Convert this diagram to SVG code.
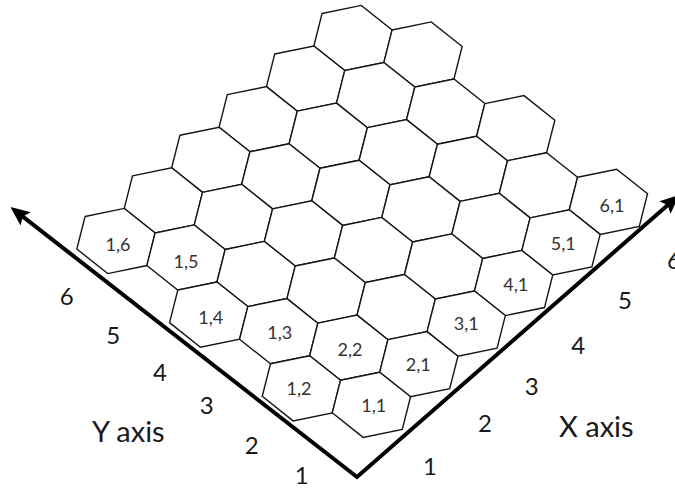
<svg xmlns="http://www.w3.org/2000/svg" width="675" height="488" viewBox="0 0 675 488">
<style>
.hex{fill:#fff;stroke:#151515;stroke-width:1.4;stroke-linejoin:miter}
.lbl{font-family:Lato,"Liberation Sans",sans-serif;font-size:18px;fill:#333;text-anchor:middle}
.num{font-family:Lato,"Liberation Sans",sans-serif;font-size:24px;fill:#1a1a1a;text-anchor:middle}
.ttl{font-family:Lato,"Liberation Sans",sans-serif;font-size:29px;fill:#1a1a1a;text-anchor:middle}
.axis{fill:none;stroke:#000;stroke-width:4;stroke-linejoin:miter}
</style>
<defs>
<polygon id="hex" class="hex" points="-30.89,-24.55 8.26,-32.58 39.15,-8.03 30.89,24.55 -8.26,32.58 -39.15,8.03"/>
<marker id="arr" markerUnits="userSpaceOnUse" markerWidth="30" markerHeight="30" refX="0" refY="0" viewBox="-10 -10 25 20" orient="auto-start-reverse" overflow="visible">
<path d="M11,0 L-5,-7 L-2,0 L-5,7 Z" fill="#000"/>
</marker>
</defs>
<rect width="675" height="488" fill="#fff"/>
<g id="hexes">
<g id="h6-6"><use href="#hex" x="353.0" y="38.0"/></g>
<g id="h5-6"><use href="#hex" x="305.6" y="78.6"/></g>
<g id="h6-5"><use href="#hex" x="423.0" y="54.5"/></g>
<g id="h4-6"><use href="#hex" x="258.2" y="119.2"/></g>
<g id="h5-5"><use href="#hex" x="375.6" y="95.1"/></g>
<g id="h6-4"><use href="#hex" x="445.7" y="111.6"/></g>
<g id="h3-6"><use href="#hex" x="210.8" y="159.8"/></g>
<g id="h4-5"><use href="#hex" x="328.2" y="135.7"/></g>
<g id="h5-4"><use href="#hex" x="398.3" y="152.2"/></g>
<g id="h6-3"><use href="#hex" x="515.7" y="128.2"/></g>
<g id="h2-6"><use href="#hex" x="163.4" y="200.4"/></g>
<g id="h3-5"><use href="#hex" x="280.8" y="176.3"/></g>
<g id="h4-4"><use href="#hex" x="350.9" y="192.8"/></g>
<g id="h5-3"><use href="#hex" x="468.3" y="168.8"/></g>
<g id="h6-2"><use href="#hex" x="538.4" y="185.3"/></g>
<g id="h1-6"><use href="#hex" x="116.0" y="241.0"/><text class="lbl" x="118" y="251.3">1,6</text></g>
<g id="h2-5"><use href="#hex" x="233.4" y="216.9"/></g>
<g id="h3-4"><use href="#hex" x="303.5" y="233.4"/></g>
<g id="h4-3"><use href="#hex" x="420.9" y="209.4"/></g>
<g id="h5-2"><use href="#hex" x="491.0" y="225.9"/></g>
<g id="h6-1"><use href="#hex" x="608.4" y="201.8"/><text class="lbl" x="612" y="212.3">6,1</text></g>
<g id="h1-5"><use href="#hex" x="186.0" y="257.5"/><text class="lbl" x="186" y="267.8">1,5</text></g>
<g id="h2-4"><use href="#hex" x="256.1" y="274.0"/></g>
<g id="h3-3"><use href="#hex" x="373.5" y="250.0"/></g>
<g id="h4-2"><use href="#hex" x="443.6" y="266.5"/></g>
<g id="h5-1"><use href="#hex" x="561.0" y="242.4"/><text class="lbl" x="563.3" y="250.1">5,1</text></g>
<g id="h1-4"><use href="#hex" x="208.7" y="314.6"/><text class="lbl" x="210.8" y="324.3">1,4</text></g>
<g id="h2-3"><use href="#hex" x="326.1" y="290.6"/></g>
<g id="h3-2"><use href="#hex" x="396.2" y="307.1"/></g>
<g id="h4-1"><use href="#hex" x="513.6" y="283.0"/><text class="lbl" x="515.8" y="291.3">4,1</text></g>
<g id="h1-3"><use href="#hex" x="278.7" y="331.2"/><text class="lbl" x="279.7" y="338.8">1,3</text></g>
<g id="h2-2"><use href="#hex" x="348.8" y="347.7"/><text class="lbl" x="350" y="355.8">2,2</text></g>
<g id="h3-1"><use href="#hex" x="466.2" y="323.6"/><text class="lbl" x="466.2" y="329.8">3,1</text></g>
<g id="h1-2"><use href="#hex" x="301.4" y="388.3"/><text class="lbl" x="299" y="395.3">1,2</text></g>
<g id="h2-1"><use href="#hex" x="418.8" y="364.2"/><text class="lbl" x="418.3" y="370.8">2,1</text></g>
<g id="h1-1"><use href="#hex" x="371.4" y="404.8"/><text class="lbl" x="373.7" y="412">1,1</text></g>
</g>
<g id="connectors">
<path class="axis" d="M20.9,215.1 L357,477 L669.5,203.6" marker-start="url(#arr)" marker-end="url(#arr)"/>
</g>
<g id="labels">
<text class="num" x="66.7" y="305.3">6</text>
<text class="num" x="113.3" y="344.3">5</text>
<text class="num" x="160" y="381.3">4</text>
<text class="num" x="206.7" y="414.3">3</text>
<text class="num" x="251.7" y="453.6">2</text>
<text class="num" x="301.7" y="484">1</text>
<text class="ttl" x="128.3" y="441.7">Y axis</text>
<text class="num" x="430" y="475.3">1</text>
<text class="num" x="485" y="432">2</text>
<text class="num" x="531.7" y="395.3">3</text>
<text class="num" x="578.3" y="353.6">4</text>
<text class="num" x="625" y="308.6">5</text>
<text class="num" x="667" y="268.6" style="text-anchor:start">6</text>
<text class="ttl" x="596.3" y="436.7">X axis</text>
</g>
</svg>
